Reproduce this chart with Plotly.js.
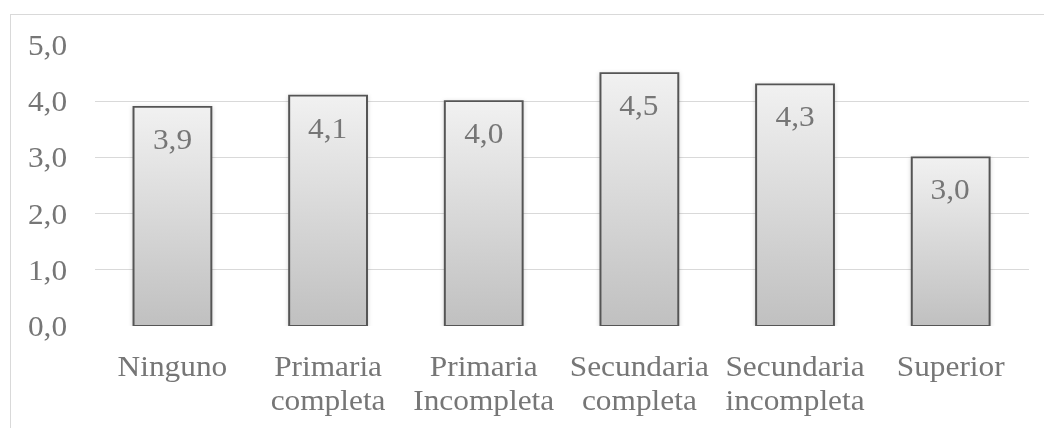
<!DOCTYPE html>
<html>
<head>
<meta charset="utf-8">
<script src="https://cdn.plot.ly/plotly-3.0.1.min.js"></script>
<style>
  html, body { margin: 0; padding: 0; background: #ffffff; overflow: hidden; }
  #frame { position: absolute; left: 10px; top: 14px; width: 1100px; height: 500px; border: 1px solid #d9d9d9; box-sizing: border-box; }
  #chart { position: absolute; left: 0; top: 0; width: 949px; height: 428px; transform: scaleX(1.1); transform-origin: 0 0; }
</style>
</head>
<body>
<div id="frame"></div>
<div id="chart"></div>
<script>
const categories = ["Ninguno", "Primaria<br>completa", "Primaria<br>Incompleta", "Secundaria<br>completa", "Secundaria<br>incompleta", "Superior"];
const values = [3.9, 4.1, 4.0, 4.5, 4.3, 3.0];
const yTicks = [0, 1, 2, 3, 4, 5];
const yTickLabels = ["0,0", "1,0", "2,0", "3,0", "4,0", "5,0"];

const fontFamily = "Liberation Serif, Times New Roman, serif";
const textColor = "#767676";
const fontSize = 28.5;

const trace = {
  type: "bar",
  x: categories,
  y: values,
  marker: { color: "#d9d9d9", line: { color: "#555555", width: 1.8 } },
  hoverinfo: "none"
};

const annotations = values.map((v, i) => ({
  x: categories[i], y: v, xref: "x", yref: "y",
  text: v.toFixed(1).replace(".", ","),
  showarrow: false, yanchor: "top", yshift: -15,
  font: { family: fontFamily, size: fontSize, color: textColor }
}));

const layout = {
  width: 949, height: 428,
  margin: { l: 86.4, r: 13.6, t: 45, b: 102 },
  paper_bgcolor: "rgba(0,0,0,0)",
  plot_bgcolor: "rgba(0,0,0,0)",
  bargap: 0.5,
  showlegend: false,
  font: { family: fontFamily, size: fontSize, color: textColor },
  xaxis: {
    showgrid: false, zeroline: false, showline: false, ticks: "",
    tickfont: { family: fontFamily, size: fontSize, color: textColor },
    ticklabelstandoff: 21
  },
  yaxis: {
    range: [0, 5], tickvals: yTicks, ticktext: yTickLabels,
    showgrid: true, gridcolor: "#d9d9d9", gridwidth: 1.2,
    zeroline: false, showline: false, ticks: "",
    tickfont: { family: fontFamily, size: fontSize, color: textColor },
    ticklabelstandoff: 24
  },
  annotations: annotations
};

Plotly.newPlot("chart", [trace], layout, { staticPlot: true, displayModeBar: false }).then(function (gd) {
  const svg = gd.querySelector("svg.main-svg");
  const ns = "http://www.w3.org/2000/svg";
  let defs = svg.querySelector("defs");
  if (!defs) { defs = document.createElementNS(ns, "defs"); svg.insertBefore(defs, svg.firstChild); }
  const grad = document.createElementNS(ns, "linearGradient");
  grad.setAttribute("id", "barGrad");
  grad.setAttribute("x1", "0"); grad.setAttribute("y1", "0");
  grad.setAttribute("x2", "0"); grad.setAttribute("y2", "1");
  [["0", "#f1f1f1"], ["1", "#c0c0c0"]].forEach(function (s) {
    const st = document.createElementNS(ns, "stop");
    st.setAttribute("offset", s[0]); st.setAttribute("stop-color", s[1]);
    grad.appendChild(st);
  });
  defs.appendChild(grad);
  const filt = document.createElementNS(ns, "filter");
  filt.setAttribute("id", "barShadow");
  filt.setAttribute("x", "-20%"); filt.setAttribute("y", "-20%");
  filt.setAttribute("width", "140%"); filt.setAttribute("height", "140%");
  filt.innerHTML = '<feDropShadow dx="0" dy="1" stdDeviation="2" flood-color="#000" flood-opacity="0.18"/>';
  defs.appendChild(filt);
  gd.querySelectorAll(".barlayer .point path").forEach(function (p) {
    p.style.fill = "url(#barGrad)";
    p.setAttribute("filter", "url(#barShadow)");
  });
  gd.querySelectorAll(".xtick text tspan.line").forEach(function (t) {
    if (t.getAttribute("dy") === "1.3em") t.setAttribute("dy", "1.16em");
  });
});
</script>
</body>
</html>
